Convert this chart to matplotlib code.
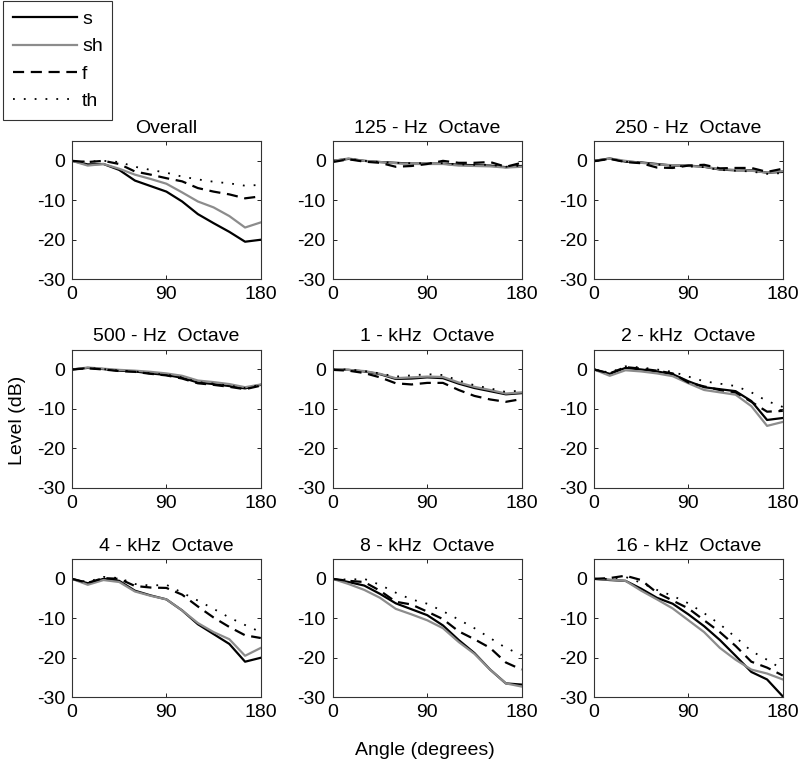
import numpy as np
import matplotlib
matplotlib.use("Agg")
import matplotlib.pyplot as plt

plt.rcParams['font.family'] = ['Liberation Sans', 'DejaVu Sans']
plt.rcParams['axes.unicode_minus'] = False

angles = [0, 15, 30, 45, 60, 75, 90, 105, 120, 135, 150, 165, 180]
series = ["s", "sh", "f", "th"]
titles = ["Overall", "125 - Hz  Octave", "250 - Hz  Octave",
          "500 - Hz  Octave", "1 - kHz  Octave", "2 - kHz  Octave",
          "4 - kHz  Octave", "8 - kHz  Octave", "16 - kHz  Octave"]

# level (dB) per panel, per series
overall_s = [0, -0.9, -0.8, -2.3, -5.0, -6.4, -7.8, -10.3, -13.5, -15.8, -18.0, -20.5, -20.0]
overall_sh = [0, -1.2, -0.8, -2.0, -3.5, -4.6, -5.8, -8.0, -10.3, -11.8, -14.0, -16.9, -15.6]
overall_f = [0, -0.3, 0, -0.8, -2.7, -3.5, -4.4, -5.2, -6.9, -7.8, -8.5, -9.5, -9.0]
overall_th = [0, -0.2, 0, -0.3, -1.5, -2.3, -3.0, -4.0, -4.7, -5.3, -5.7, -6.3, -6.1]

hz125_s = [0, 0.5, 0, -0.3, -0.5, -0.7, -0.7, -0.7, -1.0, -1.1, -1.2, -1.6, -1.3]
hz125_sh = [0, 0.6, 0, -0.3, -0.6, -0.8, -0.8, -0.8, -1.2, -1.3, -1.4, -1.7, -1.5]
hz125_f = [-0.3, 0.4, -0.2, -0.5, -1.5, -1.3, -0.8, 0, -0.5, -0.5, -0.3, -1.5, -0.5]
hz125_th = [0, 0.5, 0, -0.3, -0.5, -0.6, -0.6, -0.6, -0.9, -1.0, -1.0, -1.5, -1.2]

hz250_s = [0, 0.6, -0.2, -0.4, -0.8, -1.2, -1.2, -1.5, -2.2, -2.4, -2.4, -3.0, -2.8]
hz250_sh = [0, 0.6, 0, -0.5, -0.9, -1.1, -1.3, -1.5, -2.1, -2.3, -2.5, -3.0, -2.6]
hz250_f = [-0.1, 0.5, -0.3, -0.6, -1.7, -1.8, -1.2, -1.0, -1.9, -1.8, -1.8, -2.8, -2.0]
hz250_th = [0, 0.5, -0.2, -0.5, -0.9, -1.3, -1.4, -1.6, -2.3, -2.5, -2.7, -3.3, -3.1]

hz500_s = [0, 0.4, 0.1, -0.3, -0.5, -1.0, -1.4, -2.1, -3.3, -3.7, -4.2, -4.8, -3.9]
hz500_sh = [0, 0.5, 0.2, -0.1, -0.3, -0.6, -1.0, -1.6, -2.8, -3.2, -3.7, -4.5, -3.8]
hz500_f = [0, 0.3, 0, -0.4, -0.6, -1.1, -1.5, -2.3, -3.5, -3.9, -4.4, -5.0, -4.1]
hz500_th = [0, 0.4, 0.1, -0.3, -0.5, -1.0, -1.3, -2.0, -3.2, -3.6, -4.1, -4.7, -3.9]

khz1_s = [0, -0.1, -0.5, -1.2, -2.4, -2.3, -2.0, -2.2, -3.6, -4.7, -5.5, -6.3, -6.0]
khz1_sh = [0, -0.1, -0.4, -1.1, -2.2, -2.0, -1.8, -1.9, -3.3, -4.4, -5.2, -6.1, -5.8]
khz1_f = [-0.1, -0.3, -0.9, -2.0, -3.5, -3.8, -3.4, -3.4, -5.2, -6.7, -7.6, -8.2, -7.5]
khz1_th = [0, 0, -0.4, -1.0, -1.8, -1.5, -1.2, -1.4, -2.8, -4.0, -4.8, -5.7, -5.3]

khz2_s = [0, -1.1, 0.4, 0, -0.5, -1.2, -3.0, -4.5, -5.0, -5.5, -8.0, -12.8, -12.3]
khz2_sh = [0, -1.6, -0.2, -0.5, -1.0, -1.7, -3.5, -5.2, -5.8, -6.4, -9.3, -14.3, -13.3]
khz2_f = [0, -1.0, 0.6, 0.2, -0.3, -1.0, -3.3, -4.3, -5.2, -5.8, -8.2, -10.7, -10.5]
khz2_th = [0, -0.8, 0.8, 0.5, 0, -0.6, -1.8, -3.0, -3.6, -4.2, -5.8, -8.0, -9.5]

khz4_s = [0, -1.1, 0, -0.5, -3.0, -4.2, -5.2, -8.0, -11.5, -14.0, -16.5, -21.0, -20.0]
khz4_sh = [0, -1.5, -0.3, -0.8, -3.2, -4.3, -5.2, -8.0, -11.2, -13.5, -15.3, -19.5, -17.5]
khz4_f = [0, -1.0, 0.2, 0, -1.8, -2.2, -2.3, -4.0, -7.0, -9.8, -12.2, -14.3, -15.0]
khz4_th = [0, -0.8, 0.5, 0.2, -1.3, -1.7, -1.5, -3.5, -5.5, -7.6, -9.8, -11.7, -13.5]

khz8_s = [0, -0.8, -1.7, -3.8, -6.2, -7.7, -9.2, -11.8, -15.5, -18.8, -23.0, -26.5, -26.8]
khz8_sh = [0, -1.3, -2.8, -4.8, -7.6, -9.0, -10.5, -12.5, -16.0, -19.0, -23.0, -26.5, -27.3]
khz8_f = [0, -0.5, -0.8, -3.0, -5.8, -6.5, -8.3, -10.2, -13.3, -15.3, -17.5, -21.2, -23.0]
khz8_th = [0, -0.2, 0, -1.5, -3.5, -5.2, -6.3, -8.2, -10.3, -12.5, -15.0, -17.5, -19.3]

khz16_s = [0, -0.3, -0.5, -2.5, -4.8, -6.3, -9.0, -12.0, -15.5, -19.5, -23.6, -25.5, -29.8]
khz16_sh = [0, -0.2, -0.5, -3.0, -5.2, -7.5, -10.5, -13.5, -17.5, -20.5, -23.0, -24.0, -25.5]
khz16_f = [0, 0.2, 0.8, -0.3, -3.5, -5.5, -7.5, -10.5, -13.5, -17.0, -21.0, -22.5, -24.5]
khz16_th = [0, 0, 0.5, -1.0, -2.8, -4.3, -6.2, -8.7, -11.5, -14.8, -18.3, -20.5, -23.0]

panels = [
    [overall_s, overall_sh, overall_f, overall_th],
    [hz125_s, hz125_sh, hz125_f, hz125_th],
    [hz250_s, hz250_sh, hz250_f, hz250_th],
    [hz500_s, hz500_sh, hz500_f, hz500_th],
    [khz1_s, khz1_sh, khz1_f, khz1_th],
    [khz2_s, khz2_sh, khz2_f, khz2_th],
    [khz4_s, khz4_sh, khz4_f, khz4_th],
    [khz8_s, khz8_sh, khz8_f, khz8_th],
    [khz16_s, khz16_sh, khz16_f, khz16_th],
]

styles = [
    dict(color="black", lw=1.6, linestyle="-"),
    dict(color="#8c8c8c", lw=1.6, linestyle="-"),
    dict(color="black", lw=1.6, dashes=(5, 3)),
    dict(color="black", lw=1.3, dashes=(1, 5)),
]

FS = 14

fig = plt.figure(figsize=(8, 7.67), dpi=100)

lefts = [0.090, 0.416, 0.7425]
bottoms = [0.636, 0.364, 0.091]
w = 0.236
h = 0.180

lines = []
for i in range(9):
    r, c = divmod(i, 3)
    ax = fig.add_axes([lefts[c], bottoms[r], w, h])
    for k, vals in enumerate(panels[i]):
        ln, = ax.plot(angles, vals, **styles[k])
        if i == 0:
            lines.append(ln)
    ax.set_xlim(0, 180)
    ax.set_ylim(-30, 5)
    ax.set_xticks([0, 90, 180])
    ax.set_yticks([-30, -20, -10, 0])
    ax.tick_params(direction="in", length=3, width=0.6, top=True, right=True,
                   labelsize=FS, pad=5)
    for sp in ax.spines.values():
        sp.set_linewidth(0.8)
        sp.set_color("#333333")
    ax.set_title(titles[i], fontsize=FS, pad=6)

fig.text(0.022, 0.452, "Level (dB)", rotation=90, fontsize=FS, ha="center", va="center")
fig.text(0.531, 0.022, "Angle (degrees)", fontsize=FS, ha="center", va="center")

leg = fig.legend(lines, series, loc="upper left", bbox_to_anchor=(0.004, 0.999),
                 borderaxespad=0, frameon=True, fancybox=False, fontsize=FS,
                 handlelength=3.3, labelspacing=0.5, borderpad=0.5, handletextpad=0.25)
leg.get_frame().set_edgecolor("black")
leg.get_frame().set_linewidth(0.8)

fig.savefig("out.png", dpi=100)
